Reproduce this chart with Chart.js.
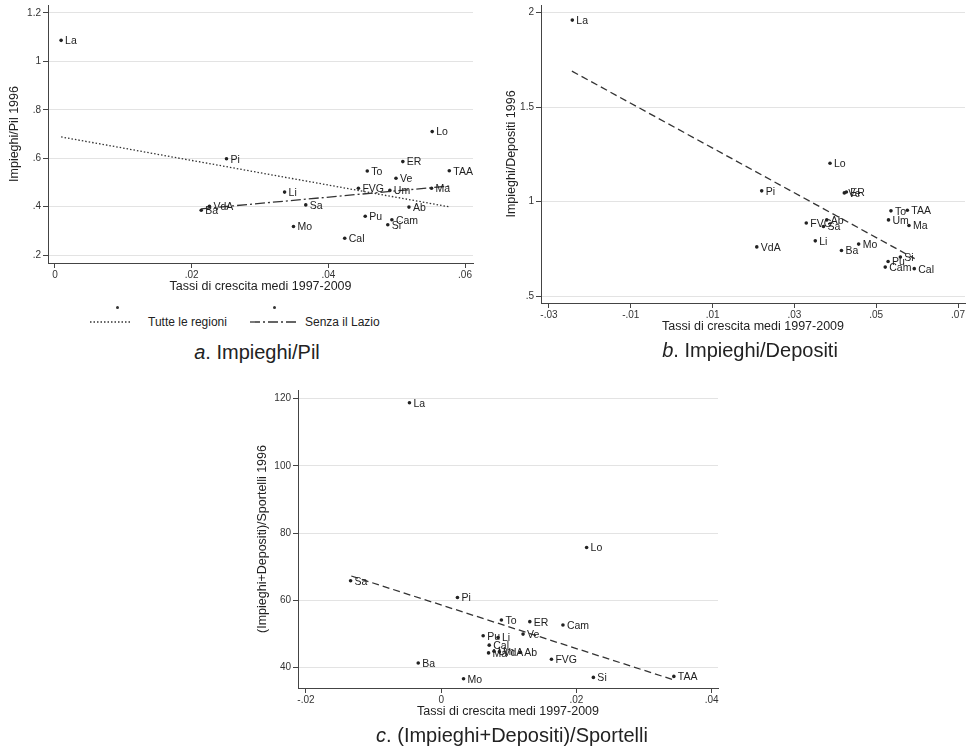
<!DOCTYPE html>
<html>
<head>
<meta charset="utf-8">
<script src="https://cdn.jsdelivr.net/npm/chart.js@4.4.1/dist/chart.umd.min.js"></script>
<style>
body { margin:0; background:#fff; font-family:'Liberation Sans', Arial, sans-serif; color:#222; }
#wrap { position:relative; width:969px; height:747px; overflow:hidden; }
canvas { position:absolute; }
.sub { position:absolute; font-size:20px; line-height:22px; transform:translateX(-50%); white-space:nowrap; }
.leg { position:absolute; font-size:12px; line-height:14px; white-space:nowrap; }
.dot { position:absolute; width:3px; height:3px; border-radius:50%; background:#333; }
svg { position:absolute; }
</style>
</head>
<body>
<div id="wrap">
  <canvas id="chartA" width="480" height="300" style="left:0;top:0"></canvas>
  <canvas id="chartB" width="479" height="340" style="left:490px;top:0"></canvas>
  <canvas id="chartC" width="490" height="340" style="left:240px;top:385px"></canvas>

  <!-- legenda pannello a -->
  <div class="dot" style="left:116px;top:306px"></div>
  <div class="dot" style="left:273px;top:306px"></div>
  <svg style="left:88px;top:318px" width="46" height="8"><line x1="2" y1="4" x2="44" y2="4" stroke="#333" stroke-width="1.3" stroke-dasharray="1.5,2"/></svg>
  <div class="leg" style="left:148px;top:315px">Tutte le regioni</div>
  <svg style="left:248px;top:318px" width="52" height="8"><line x1="2" y1="4" x2="50" y2="4" stroke="#333" stroke-width="1.3" stroke-dasharray="10,3,2,3"/></svg>
  <div class="leg" style="left:305px;top:315px">Senza il Lazio</div>

  <div class="sub" style="left:257px;top:341px"><i>a</i>. Impieghi/Pil</div>
  <div class="sub" style="left:750px;top:339px"><i>b</i>. Impieghi/Depositi</div>
  <div class="sub" style="left:512px;top:724px"><i>c</i>. (Impieghi+Depositi)/Sportelli</div>
</div>
<script>
// pannello a: Impieghi/Pil 1996
var regioniA = ['La','Pi','Lo','ER','To','TAA','Ve','FVG','Um','Ma','Li','Sa','VdA','Ba','Ab','Pu','Cam','Si','Mo','Cal'];
var crescitaA = [0.0009,0.0251,0.0552,0.0509,0.0457,0.0577,0.0499,0.0444,0.0490,0.0551,0.0336,0.0367,0.0226,0.0214,0.0518,0.0454,0.0493,0.0487,0.0349,0.0424];
var impPilA = [1.087,0.598,0.710,0.586,0.547,0.548,0.517,0.476,0.467,0.476,0.460,0.407,0.401,0.385,0.398,0.360,0.346,0.325,0.318,0.269];
var tutteX = [0.0009, 0.0577];
var tutteY = [0.688, 0.399];
var senzaX = [0.0214, 0.0577];
var senzaY = [0.391, 0.485];

// pannello b: Impieghi/Depositi 1996
var regioniB = ['La','Lo','Pi','Ve','ER','To','TAA','Um','Ma','FVG','Ab','Sa','Li','VdA','Mo','Ba','Si','Pu','Cam','Cal'];
var crescitaB = [-0.0243,0.0387,0.0220,0.0422,0.0427,0.0536,0.0576,0.0530,0.0580,0.0329,0.0379,0.0371,0.0351,0.0208,0.0457,0.0415,0.0559,0.0529,0.0522,0.0593];
var impDepB = [1.961,1.203,1.057,1.046,1.051,0.951,0.954,0.903,0.873,0.887,0.903,0.868,0.792,0.760,0.775,0.741,0.706,0.683,0.653,0.645];
var fitBX = [-0.0244, 0.0594];
var fitBY = [1.691, 0.698];

// pannello c: (Impieghi+Depositi)/Sportelli 1996
var regioniC = ['La','Lo','Sa','Pi','To','ER','Cam','Pu','Li','Ve','Cal','Ma','Um','VdA','Ab','FVG','Ba','Mo','Si','TAA'];
var crescitaC = [-0.0047,0.0215,-0.0134,0.0024,0.0089,0.0131,0.0180,0.0062,0.0084,0.0121,0.0071,0.0070,0.0078,0.0086,0.0117,0.0163,-0.0034,0.0033,0.0225,0.0344];
var impDepSpC = [118.8,75.7,65.8,60.8,54.1,53.6,52.6,49.4,48.9,49.9,46.6,44.3,44.8,44.6,44.5,42.4,41.3,36.6,37.0,37.3];
var fitCX = [-0.0133, 0.0343];
var fitCY = [67.2, 36.3];

var ticksAx = [0, 0.02, 0.04, 0.06];
var ticksAy = [0.2, 0.4, 0.6, 0.8, 1, 1.2];
var ticksBx = [-0.03, -0.01, 0.01, 0.03, 0.05, 0.07];
var ticksBy = [0.5, 1, 1.5, 2];
var ticksCx = [-0.02, 0, 0.02, 0.04];
var ticksCy = [40, 60, 80, 100, 120];

var xTitle = 'Tassi di crescita medi 1997-2009';
var FONT = "'Liberation Sans', Arial, sans-serif";

function fmt(v) {
  return String(v).replace(/^(-?)0\./, '$1.');
}

function pts(xs, ys) {
  return xs.map(function(x, i) { return {x: x, y: ys[i]}; });
}

// etichette delle regioni a destra dei punti
var etichette = {
  id: 'etichette',
  afterDatasetsDraw: function(chart) {
    var ctx = chart.ctx;
    ctx.save();
    ctx.font = '10.5px ' + FONT;
    ctx.fillStyle = '#222';
    ctx.textBaseline = 'middle';
    chart.data.datasets.forEach(function(ds, di) {
      if (!ds.pointLabels) return;
      chart.getDatasetMeta(di).data.forEach(function(p, i) {
        ctx.fillText(ds.pointLabels[i], p.x + 4, p.y + 1);
      });
    });
    ctx.restore();
  }
};

function scatterSet(xs, ys, names) {
  return {
    data: pts(xs, ys), pointLabels: names,
    pointRadius: 1.8, pointBackgroundColor: '#222', pointBorderWidth: 0, showLine: false
  };
}

function lineSet(xs, ys, dash) {
  return {
    data: pts(xs, ys), showLine: true, pointRadius: 0,
    borderColor: '#333', borderWidth: 1.3, borderDash: dash
  };
}

function makeChart(id, datasets, o) {
  return new Chart(document.getElementById(id), {
    type: 'scatter',
    data: { datasets: datasets },
    options: {
      responsive: false, animation: false,
      layout: { padding: { left: 0, right: o.padR, top: 5, bottom: 0 } },
      plugins: { legend: { display: false }, tooltip: { enabled: false } },
      scales: {
        x: {
          type: 'linear', min: o.xMin, max: o.xMax,
          afterBuildTicks: function(s) { s.ticks = o.xTicks.map(function(v) { return {value: v}; }); },
          afterFit: function(s) { s.height = 37; s.paddingLeft = 0; s.paddingRight = 0; },
          ticks: { callback: function(v) { return fmt(v); }, font: { size: 10, family: FONT }, color: '#333', maxRotation: 0, autoSkip: false, padding: 1 },
          grid: { drawOnChartArea: false, drawTicks: true, tickLength: 5, tickColor: '#444' },
          border: { color: '#444', width: 1 },
          title: { display: true, text: xTitle, font: { size: 12.5, family: FONT }, color: '#222', padding: { top: 0, bottom: 5.5 } }
        },
        y: {
          type: 'linear', min: o.yMin, max: o.yMax,
          afterBuildTicks: function(s) { s.ticks = o.yTicks.map(function(v) { return {value: v}; }); },
          afterFit: function(s) { s.width = o.yW; s.paddingTop = 0; s.paddingBottom = 0; },
          ticks: { callback: function(v) { return fmt(v); }, font: { size: 10, family: FONT }, color: '#333', padding: 2 },
          grid: { color: '#e3e3e3', lineWidth: 1, drawTicks: true, tickLength: 5, tickColor: '#444' },
          border: { color: '#444', width: 1 },
          title: { display: true, text: o.yTitle, font: { size: 12.5, family: FONT }, color: '#222', padding: { top: o.yTitlePad, bottom: 0 } }
        }
      }
    },
    plugins: [etichette]
  });
}

makeChart('chartA', [
  lineSet(tutteX, tutteY, [1.5, 2]),
  lineSet(senzaX, senzaY, [10, 3, 2, 3]),
  scatterSet(crescitaA, impPilA, regioniA)
], { xMin: -0.00102, xMax: 0.06117, yMin: 0.167, yMax: 1.233, xTicks: ticksAx, yTicks: ticksAy,
     yTitle: 'Impieghi/Pil 1996', yW: 48, padR: 7, yTitlePad: 7.5 });

makeChart('chartB', [
  lineSet(fitBX, fitBY, [7, 4]),
  scatterSet(crescitaB, impDepB, regioniB)
], { xMin: -0.03195, xMax: 0.0717, yMin: 0.463, yMax: 2.041, xTicks: ticksBx, yTicks: ticksBy,
     yTitle: 'Impieghi/Depositi 1996', yW: 51, padR: 4, yTitlePad: 14.5 });

makeChart('chartC', [
  lineSet(fitCX, fitCY, [7, 4]),
  scatterSet(crescitaC, impDepSpC, regioniC)
], { xMin: -0.02118, xMax: 0.04093, yMin: 33.84, yMax: 122.6, xTicks: ticksCx, yTicks: ticksCy,
     yTitle: '(Impieghi+Depositi)/Sportelli 1996', yW: 58, padR: 12, yTitlePad: 15.5 });
</script>
</body>
</html>
